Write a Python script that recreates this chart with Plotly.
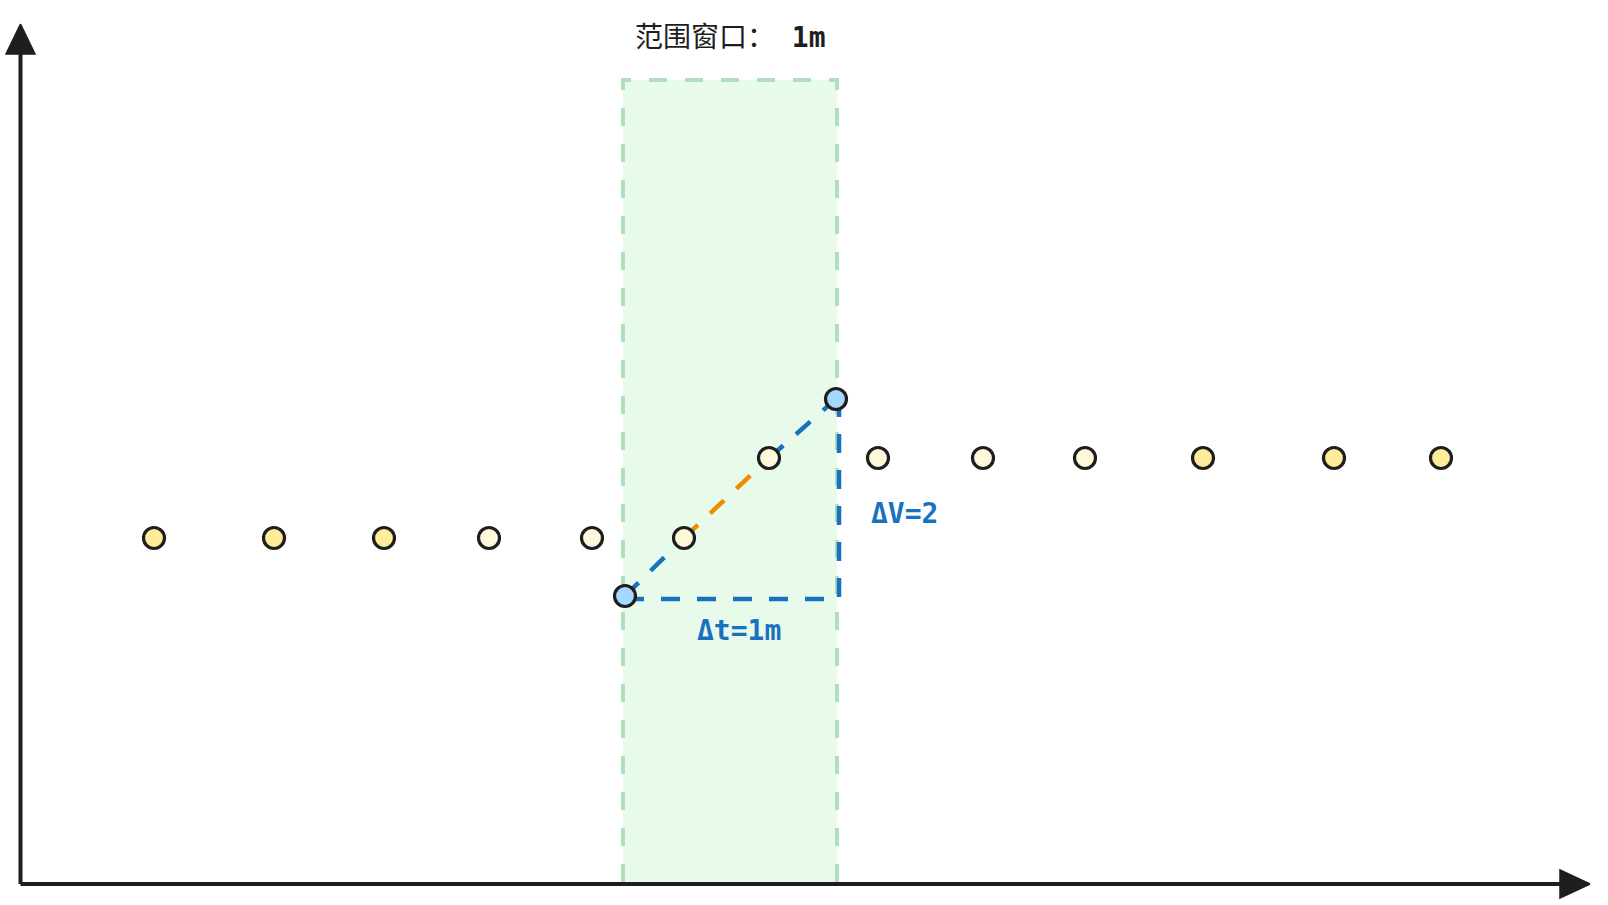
import plotly.graph_objects as go

# ---- data (time in arbitrary units, value in arbitrary units) ----
times = [15.4, 27.4, 38.4, 48.9, 59.2, 68.4, 76.9, 87.8, 98.3, 108.5, 120.3, 133.4, 144.1]
values = [36.7, 36.7, 36.7, 36.7, 36.7, 36.7, 44.7, 44.7, 44.7, 44.7, 44.7, 44.7, 44.7]
point_fill = ["#ffec99", "#ffec99", "#ffec99", "#fff9db", "#fff9db", "#fff9db", "#fff9db",
              "#fff9db", "#fff9db", "#fff9db", "#ffec99", "#ffec99", "#ffec99"]

window_start, window_end = 62.3, 83.7
window_top = 82.5
endpoint_t = [62.5, 83.6]
endpoint_v = [30.9, 50.6]

title_text = "范围窗口： <b>1m</b>"
dv_label = "<b>ΔV=2</b>"
dt_label = "<b>Δt=1m</b>"

# axes geometry (in data units)
origin_x, origin_y = 2.05, 2.1
x_end, y_end = 159.0, 88.1

INK = "#1e1e1e"
BLUE = "#1971c2"
ORANGE = "#f08c00"
GREEN_LINE = "#b0e0bb"
GREEN_FILL = "rgba(178,242,187,0.30)"
DASH = "19px,17px"

fig = go.Figure()

# window rectangle
fig.add_shape(type="rect", x0=window_start, x1=window_end, y0=origin_y, y1=window_top,
              line=dict(color=GREEN_LINE, width=4, dash="18px,18px"),
              fillcolor=GREEN_FILL, layer="below")

# blue dashed triangle legs
corner_y = endpoint_v[0] - 0.3
corner_x = endpoint_t[1] + 0.3
fig.add_trace(go.Scatter(x=[endpoint_t[0], corner_x, corner_x], y=[corner_y, corner_y, endpoint_v[1]],
                         mode="lines", line=dict(color=BLUE, width=4.5, dash=DASH),
                         hoverinfo="skip", showlegend=False))
# diagonal: blue - orange - blue
fig.add_trace(go.Scatter(x=[endpoint_t[0], times[5]], y=[endpoint_v[0], values[5]],
                         mode="lines", line=dict(color=BLUE, width=4.5, dash=DASH),
                         hoverinfo="skip", showlegend=False))
fig.add_trace(go.Scatter(x=[times[5], times[6]], y=[values[5], values[6]],
                         mode="lines", line=dict(color=ORANGE, width=4.5, dash=DASH),
                         hoverinfo="skip", showlegend=False))
fig.add_trace(go.Scatter(x=[times[6], endpoint_t[1]], y=[values[6], endpoint_v[1]],
                         mode="lines", line=dict(color=BLUE, width=4.5, dash=DASH),
                         hoverinfo="skip", showlegend=False))

# axes lines
fig.add_trace(go.Scatter(x=[origin_x, origin_x], y=[origin_y, y_end - 2],
                         mode="lines", line=dict(color=INK, width=4),
                         hoverinfo="skip", showlegend=False))
fig.add_trace(go.Scatter(x=[origin_x, x_end - 2], y=[origin_y, origin_y],
                         mode="lines", line=dict(color=INK, width=4),
                         hoverinfo="skip", showlegend=False))
# arrow heads
fig.add_trace(go.Scatter(x=[origin_x, origin_x - 1.45, origin_x + 1.45, origin_x],
                         y=[y_end, y_end - 3.0, y_end - 3.0, y_end],
                         mode="lines", fill="toself", fillcolor=INK, line=dict(color=INK, width=1.5),
                         hoverinfo="skip", showlegend=False))
fig.add_trace(go.Scatter(x=[x_end, x_end - 3.0, x_end - 3.0, x_end],
                         y=[origin_y, origin_y + 1.4, origin_y - 1.4, origin_y],
                         mode="lines", fill="toself", fillcolor=INK, line=dict(color=INK, width=1.5),
                         hoverinfo="skip", showlegend=False))

# data points
fig.add_trace(go.Scatter(x=times, y=values, mode="markers",
                         marker=dict(size=21, color=point_fill, line=dict(color=INK, width=3.2)),
                         showlegend=False))
fig.add_trace(go.Scatter(x=endpoint_t, y=endpoint_v, mode="markers",
                         marker=dict(size=21, color="#a5d8ff", line=dict(color=INK, width=3.2)),
                         showlegend=False))

FONT = "DejaVu Sans Mono, Noto Sans CJK SC"
fig.add_annotation(x=73.0, y=86.8, text=title_text, showarrow=False,
                   font=dict(family=FONT, size=28, color=INK))
fig.add_annotation(x=90.45, y=39.2, text=dv_label, showarrow=False,
                   font=dict(family=FONT, size=28, color=BLUE))
fig.add_annotation(x=73.9, y=27.5, text=dt_label, showarrow=False,
                   font=dict(family=FONT, size=28, color=BLUE))

fig.update_layout(
    width=1608, height=905,
    margin=dict(l=0, r=0, t=0, b=0),
    paper_bgcolor="white", plot_bgcolor="white",
    xaxis=dict(range=[0, 160.8], visible=False, fixedrange=True),
    yaxis=dict(range=[0, 90.5], visible=False, fixedrange=True),
    showlegend=False,
)

fig.write_html("out.html", post_script="document.body.style.margin='0';document.body.style.overflow='hidden';",
               config={"displayModeBar": False})
